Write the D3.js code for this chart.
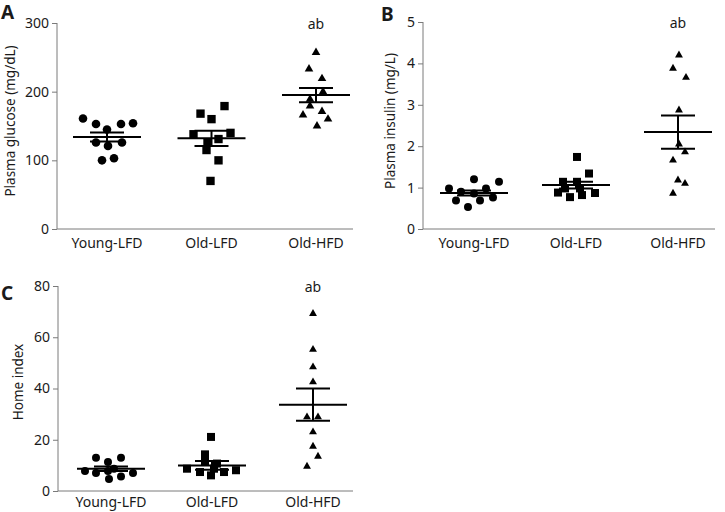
<!DOCTYPE html>
<html>
<head>
<meta charset="utf-8">
<script src="https://cdn.jsdelivr.net/npm/d3@7/dist/d3.min.js"></script>
<style>
  html, body { margin: 0; padding: 0; background: #fff; }
  svg { display: block; }
  text { font-family: "Noto Sans", "DejaVu Sans", sans-serif; fill: #1a1a1a; }
</style>
</head>
<body>
<svg id="chart" width="725" height="512"></svg>
<script>
// ---------- data ----------
const groups = ["Young-LFD", "Old-LFD", "Old-HFD"];

// Panel A: plasma glucose (mg/dL)
const glucoseTicks = [0, 100, 200, 300];
const glucoseYoung  = [161, 153, 145, 153, 154, 126, 121, 126, 100, 103];
const glucoseOldLFD = [168, 160, 179, 138, 140, 131, 126, 115, 100, 70];
const glucoseOldHFD = [257, 233, 219, 200, 189, 179, 166, 171, 160, 150];
const glucoseMean = [134, 132, 195];
const glucoseSEM  = [6.5, 11, 10.5];
const glucoseJitterYoung  = [-24, -11, 0, 14, 26, -11, 1, 15, -5, 7];
const glucoseJitterOldLFD = [-11, 0, 13, -18, 19, 7, -4, -5, 7, -1];
const glucoseJitterOldHFD = [0, -7, 6, 7, -6, -6, -13, 6, 12, 1];

// Panel B: plasma insulin (mg/L)
const insulinTicks = [0, 1, 2, 3, 4, 5];
const insulinYoung  = [0.98, 0.90, 1.20, 0.98, 1.14, 0.69, 0.53, 0.69, 0.76, 0.86];
const insulinOldLFD = [1.74, 1.34, 1.14, 1.14, 0.88, 0.77, 0.82, 0.87, 0.98, 0.98];
const insulinOldHFD = [4.20, 3.88, 3.66, 2.87, 2.05, 1.86, 1.66, 1.18, 1.10, 0.86];
const insulinMean = [0.87, 1.06, 2.34];
const insulinSEM  = [0.06, 0.08, 0.40];
const insulinJitterYoung  = [-25, -13, 0, 12, 25, -18, -6, 6, 19, 0];
const insulinJitterOldLFD = [1, 13, -13, 1, -18, -6, 6, 19, -11, 4];
const insulinJitterOldHFD = [1, -5, 8, 1, 1, 7, -5, 0, 7, -5];

// Panel C: Homa index
const homaTicks = [0, 20, 40, 60, 80];
const homaYoung  = [13.0, 13.0, 11.3, 7.8, 7.0, 7.0, 5.7, 4.7, 8.7, 7.8];
const homaOldLFD = [21.1, 14.3, 11.7, 10.7, 8.7, 7.4, 6.1, 7.4, 8.1, 8.7];
const homaOldHFD = [69.2, 55.2, 48.4, 42.5, 28.9, 28.9, 23.0, 17.4, 13.5, 9.6];
const homaMean = [8.7, 10.0, 33.7];
const homaSEM  = [0.9, 1.7, 6.3];
const homaJitterYoung  = [-15, 10, -3, -26, -15, 22, 10, -2, 3, -3];
const homaJitterOldLFD = [-1, -7, -7, 5, -25, -12, -1, 12, 24, 2];
const homaJitterOldHFD = [0, 0, 0, 0, -6, 5, 0, 0, 5, -6];

// ---------- drawing ----------
const svg = d3.select("#chart");
const axisColor = "#7a7a7a";

function symbolFor(i) {
  return [d3.symbolCircle, d3.symbolSquare, d3.symbolTriangle][i];
}

function drawPanel(p) {
  const g = svg.append("g");
  const y = d3.scaleLinear().domain([p.ticks[0], p.ticks[p.ticks.length - 1]])
    .range([p.bottom, p.top]);
  const x = d3.scalePoint().domain(groups).range([p.c0, p.c2]);

  // y axis
  const yAxis = d3.axisLeft(y).tickValues(p.ticks).tickSize(5).tickPadding(3)
    .tickFormat(d3.format("d"));
  const ya = g.append("g").attr("transform", `translate(${p.left},0)`).call(yAxis);
  ya.select(".domain").attr("stroke", axisColor).attr("d", `M0,${p.top}V${p.bottom}`);
  ya.selectAll(".tick line").attr("stroke", axisColor);
  ya.selectAll(".tick text").attr("font-size", 14)
    .attr("font-family", '"Noto Sans", "DejaVu Sans", sans-serif').attr("fill", "#1a1a1a");

  // x axis (line + labels)
  g.append("line").attr("x1", p.left).attr("x2", p.right)
    .attr("y1", p.bottom).attr("y2", p.bottom)
    .attr("stroke", axisColor).attr("stroke-width", 1);
  g.selectAll(".xlab").data(groups).enter().append("text")
    .attr("x", d => x(d)).attr("y", p.bottom + p.xlabOffset)
    .attr("text-anchor", "middle").attr("font-size", 14).text(d => d);

  // y title
  g.append("text")
    .attr("transform", `translate(${p.titleX},${p.titleY}) rotate(-90)`)
    .attr("text-anchor", "middle").attr("font-size", 13.5).text(p.title);

  // panel letter
  g.append("text").attr("x", p.letterX).attr("y", p.letterY)
    .attr("font-size", 19).attr("font-weight", "bold")
    .attr("font-family", '"DejaVu Sans", sans-serif').attr("fill", "#111")
    .text(p.letter);

  // "ab" marker
  g.append("text").attr("x", x(groups[2])).attr("y", p.abY)
    .attr("text-anchor", "middle").attr("font-size", 14).text("ab");

  // points
  p.series.forEach((vals, gi) => {
    const sym = d3.symbol().type(symbolFor(gi)).size(p.sizes[gi]);
    g.selectAll(null).data(vals.map((v, i) => ({ v, j: p.jitter[gi][i] })))
      .enter().append("path")
      .attr("d", sym)
      .attr("transform", d => `translate(${x(groups[gi]) + d.j},${y(d.v)})`)
      .attr("fill", "#000");
  });

  // mean and SEM lines
  groups.forEach((grp, gi) => {
    const cx = x(grp);
    const m = p.mean[gi], s = p.sem[gi];
    g.append("line").attr("x1", cx - 34).attr("x2", cx + 34)
      .attr("y1", y(m)).attr("y2", y(m)).attr("stroke", "#000").attr("stroke-width", 2);
    g.append("line").attr("x1", cx - 17).attr("x2", cx + 17)
      .attr("y1", y(m + s)).attr("y2", y(m + s)).attr("stroke", "#000").attr("stroke-width", 2);
    g.append("line").attr("x1", cx - 17).attr("x2", cx + 17)
      .attr("y1", y(m - s)).attr("y2", y(m - s)).attr("stroke", "#000").attr("stroke-width", 2);
    g.append("line").attr("x1", cx).attr("x2", cx)
      .attr("y1", y(m + s)).attr("y2", y(m - s)).attr("stroke", "#000").attr("stroke-width", 2);
  });
}

drawPanel({
  letter: "A", letterX: 1, letterY: 19,
  title: "Plasma glucose (mg/dL)", titleX: 15, titleY: 121,
  left: 57, right: 353, top: 23, bottom: 229, c0: 107, c2: 316, abY: 29, xlabOffset: 19,
  ticks: glucoseTicks,
  series: [glucoseYoung, glucoseOldLFD, glucoseOldHFD],
  jitter: [glucoseJitterYoung, glucoseJitterOldLFD, glucoseJitterOldHFD],
  mean: glucoseMean, sem: glucoseSEM, sizes: [58, 70, 32]
});

drawPanel({
  letter: "B", letterX: 381, letterY: 21,
  title: "Plasma insulin (mg/L)", titleX: 395, titleY: 121,
  left: 423, right: 715, top: 22, bottom: 229, c0: 474, c2: 678, abY: 28, xlabOffset: 19,
  ticks: insulinTicks,
  series: [insulinYoung, insulinOldLFD, insulinOldHFD],
  jitter: [insulinJitterYoung, insulinJitterOldLFD, insulinJitterOldHFD],
  mean: insulinMean, sem: insulinSEM, sizes: [50, 64, 27]
});

drawPanel({
  letter: "C", letterX: 1, letterY: 300,
  title: "Home index", titleX: 23, titleY: 382,
  left: 58, right: 353, top: 286, bottom: 491, c0: 111, c2: 313, abY: 292, xlabOffset: 16,
  ticks: homaTicks,
  series: [homaYoung, homaOldLFD, homaOldHFD],
  jitter: [homaJitterYoung, homaJitterOldLFD, homaJitterOldHFD],
  mean: homaMean, sem: homaSEM, sizes: [50, 64, 27]
});
</script>
</body>
</html>
